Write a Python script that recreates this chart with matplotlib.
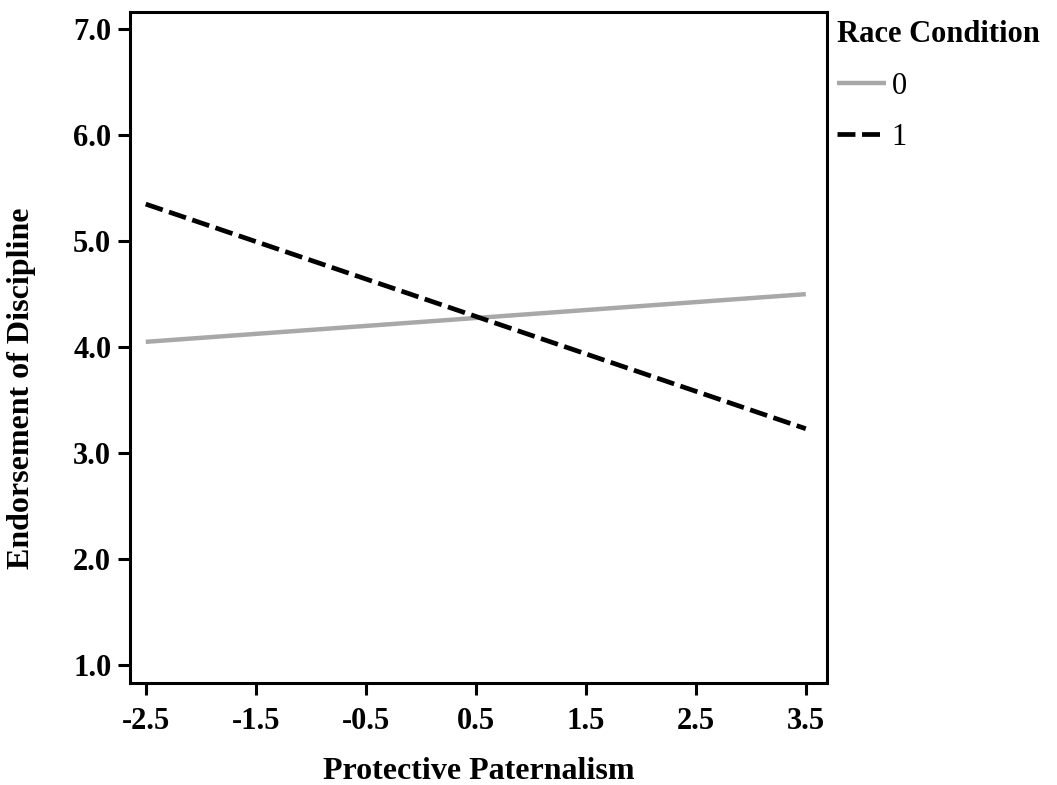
import matplotlib
matplotlib.use("Agg")
import matplotlib.pyplot as plt

# simple slopes for each race condition
x_vals = [-2.5, 3.5]
race_0 = [4.05, 4.50]
race_1 = [5.35, 3.23]
x_ticks = [-2.5, -1.5, -0.5, 0.5, 1.5, 2.5, 3.5]
y_ticks = [1.0, 2.0, 3.0, 4.0, 5.0, 6.0, 7.0]

plt.rcParams["font.family"] = "Liberation Serif"
plt.rcParams["font.weight"] = "bold"

fig = plt.figure(figsize=(10.57, 7.85), dpi=100)
ax = fig.add_axes([130 / 1057, 1 - 683 / 785, (826.7 - 130) / 1057, (683 - 12) / 785])

ax.plot(x_vals, race_0, color="#a8a8a8", lw=3.2, label="0", solid_capstyle="butt")
ax.plot(x_vals, race_1, color="black", lw=3.4, ls=(0, (3.8, 1.4)), label="1",
        dash_capstyle="butt")

ax.set_xlim(-2.643, 3.69)
ax.set_ylim(0.83, 7.163)
ax.set_xticks(x_ticks)
ax.set_xticklabels([f"{v:.1f}" for v in x_ticks])
ax.set_yticks(y_ticks)
ax.set_yticklabels([f"{v:.1f}" for v in y_ticks])
ax.tick_params(direction="out", length=8.5, width=2.2, labelsize=22)
ax.tick_params(axis="y", pad=5)
ax.tick_params(axis="x", pad=9)

for s in ax.spines.values():
    s.set_linewidth(2.2)

ax.set_xlabel("Protective Paternalism", fontsize=23, fontweight="bold", labelpad=15)
ax.set_ylabel("Endorsement of Discipline", fontsize=23, fontweight="bold")
ax.yaxis.set_label_coords(-0.135, 0.44)

leg = ax.legend(title="Race Condition", loc="upper left", bbox_to_anchor=(0.988, 1.015),
                frameon=False, fontsize=22, handlelength=1.6, handletextpad=0.2,
                borderaxespad=0.2, labelspacing=0.73, alignment="left")
leg.get_title().set_fontsize(22)
leg.get_title().set_fontweight("bold")
for t in leg.get_texts():
    t.set_fontweight("normal")

fig.savefig("out.png", dpi=100)
